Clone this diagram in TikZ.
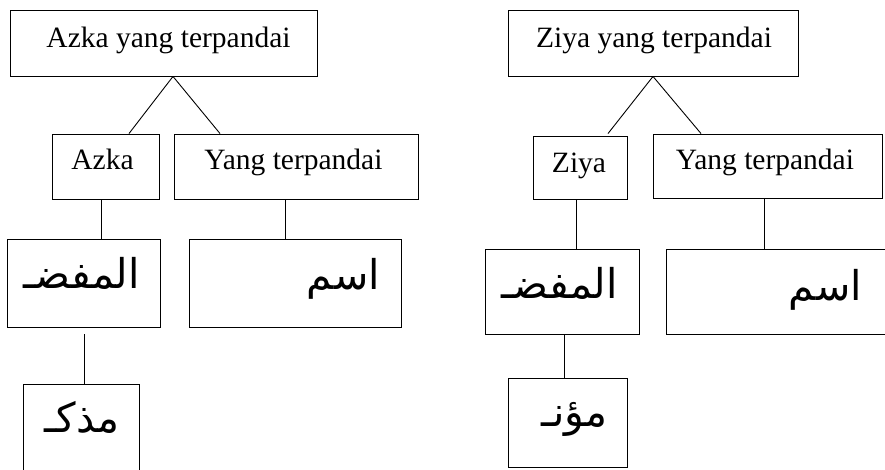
\documentclass[tikz,border=0pt]{standalone}
\usepackage{fontspec}
\setmainfont{Liberation Serif}
\newfontfamily\arabicfont[Script=Arabic]{DejaVu Sans}
\TeXXeTstate=1
\usetikzlibrary{positioning}
\tikzset{
  box/.style={draw, line width=0.9pt, inner sep=0pt, minimum width=#1},
  lat/.style={font=\fontsize{29.5}{32}\selectfont, inner sep=0pt, anchor=base},
  ar/.style={font=\arabicfont\fontsize{41}{44}\selectfont, inner sep=0pt, anchor=base east},
  link/.style={line width=0.9pt}
}
\begin{document}
\begin{tikzpicture}[x=1pt, y=-1pt]
\useasboundingbox (0,0) rectangle (885,470);

% ---- first tree: Azka ----
\node[box=307pt, minimum height=66pt] (t1) at (163.5,43) {};
\node[box=107pt, minimum height=65pt] (a1) at (105.5,166.5) {};
\node[box=244pt, minimum height=65pt] (y1) at (296,166.5) {};
\node[box=153pt, minimum height=88pt] (m1) at (83.5,283) {};
\node[box=212pt, minimum height=88pt] (s1) at (295,283) {};
\node[box=116pt, minimum height=116pt] (k1) at (81,442) {};

\node[lat] (t1txt) at (168.5,48) {Azka yang terpandai};
\node[lat] (a1txt) at (102.5,170) {Azka};
\node[lat] (y1txt) at (293.5,170) {Yang terpandai};
\node[ar] (m1txt) at (140,288) {\beginR المفضـ\endR};
\node[ar] (s1txt) at (380,289) {\beginR اسم\endR};
\node[ar] (k1txt) at (120,432) {\beginR مذكـ\endR};

\coordinate (t1apex) at ([xshift=9.5pt]t1.south);
\draw[link] (t1apex) -- ([xshift=23.5pt]a1.north);
\draw[link] (t1apex) -- ([xshift=-76pt]y1.north);
\draw[link] ([xshift=-4.5pt]a1.south) -- ([xshift=17.5pt]m1.north);
\draw[link] ([xshift=-11pt]y1.south) -- ([xshift=-10pt]s1.north);
\coordinate (m1low) at ([xshift=0.5pt,yshift=-7pt]m1.south);
\draw[link] (m1low) -- ([xshift=3pt]k1.north);

% ---- second tree: Ziya ----
\node[box=290pt, minimum height=66pt] (t2) at (653,43) {};
\node[box=94pt, minimum height=63pt] (z2) at (580,167.5) {};
\node[box=229pt, minimum height=64pt] (y2) at (767.5,166) {};
\node[box=154pt, minimum height=85pt] (m2) at (562,291.5) {};
\node[box=224pt, minimum height=85pt] (s2) at (778,291.5) {};
\node[box=119pt, minimum height=89pt] (n2) at (567.5,422.5) {};

\node[lat] (t2txt) at (654,48) {Ziya yang terpandai};
\node[lat] (z2txt) at (579,173) {Ziya};
\node[lat] (y2txt) at (765,170) {Yang terpandai};
\node[ar] (m2txt) at (618,298) {\beginR المفضـ\endR};
\node[ar] (s2txt) at (862,300) {\beginR اسم\endR};
\node[ar] (n2txt) at (608,426) {\beginR مؤنـ\endR};

\coordinate (t2apex) at (t2.south);
\draw[link] (t2apex) -- ([xshift=28pt,yshift=2pt]z2.north);
\draw[link] (t2apex) -- ([xshift=-66.5pt]y2.north);
\draw[link] ([xshift=-4pt]z2.south) -- ([xshift=14pt]m2.north);
\draw[link] ([xshift=-3.5pt]y2.south) -- ([xshift=-14pt]s2.north);
\draw[link] ([xshift=2pt]m2.south) -- ([xshift=-3.5pt]n2.north);
\end{tikzpicture}
\end{document}
